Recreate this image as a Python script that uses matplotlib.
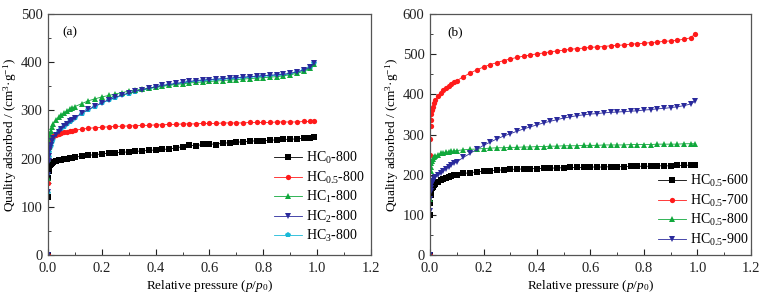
import numpy as np
import matplotlib
matplotlib.use('Agg')
import matplotlib.pyplot as plt

plt.rcParams['font.family'] = 'Liberation Serif'
plt.rcParams['mathtext.fontset'] = 'custom'
plt.rcParams['mathtext.rm'] = 'Liberation Serif'
plt.rcParams['mathtext.it'] = 'Liberation Serif:italic'

# relative pressure points (shared by all isotherms)
P = [0, 0.0005, 0.001, 0.002, 0.003, 0.005, 0.007, 0.01, 0.015, 0.02, 0.03, 0.04, 0.05,
     0.06, 0.07, 0.08, 0.09,
     0.1, 0.125, 0.15, 0.175, 0.2, 0.225, 0.25, 0.275, 0.3, 0.325, 0.35, 0.375, 0.4,
     0.425, 0.45, 0.475, 0.5, 0.525, 0.55, 0.575, 0.6, 0.625, 0.65, 0.675, 0.7, 0.725,
     0.75, 0.775, 0.8, 0.825, 0.85, 0.875, 0.9, 0.925, 0.95, 0.975, 0.99]

# (a) HCx-800
hc0_800 = [0, 120, 160, 175, 180, 184, 187, 189, 191, 193, 195, 197, 198, 199, 200, 201, 202,
           203, 205, 207, 208, 210, 211, 212, 213, 214, 215, 216, 217, 218, 219, 220, 222,
           225, 228, 226, 230, 231, 229, 233, 232, 234, 235, 236, 237, 237, 238, 239, 240,
           240, 241, 242, 243, 244]
hc05_800 = [0, 150, 200, 225, 232, 237, 240, 242, 245, 247, 250, 252, 254, 255, 256, 257, 258,
            259, 261, 263, 264, 265, 266, 267, 267, 268, 268, 269, 269, 270, 270, 271, 271,
            272, 272, 272, 273, 273, 273, 274, 274, 274, 274, 275, 275, 275, 275, 276, 276,
            276, 276, 277, 277, 277]
hc1_800 = [0, 160, 200, 225, 235, 245, 252, 258, 266, 272, 280, 286, 291, 295, 299, 302, 305,
           308, 314, 320, 324, 328, 331, 334, 337, 340, 342, 344, 346, 348, 350, 352, 354,
           355, 357, 358, 359, 360, 361, 362, 363, 364, 365, 366, 367, 368, 369, 370, 372,
           374, 377, 381, 388, 397]
hc2_800 = [0, 130, 165, 195, 205, 215, 222, 228, 236, 242, 250, 256, 262, 267, 272, 277, 281,
           285, 294, 302, 309, 316, 322, 327, 332, 336, 340, 343, 346, 349, 352, 354, 356,
           358, 360, 362, 363, 364, 365, 366, 367, 368, 369, 370, 371, 372, 373, 374, 375,
           377, 380, 384, 390, 399]
hc3_800 = [0, 129, 164, 194, 204, 214, 221, 227, 235, 241, 249, 255, 261, 266, 271, 276, 280,
           284, 293, 301, 308, 315, 321, 326, 331, 335, 339, 342, 345, 348, 351, 353, 355,
           357, 359, 361, 362, 363, 364, 365, 366, 367, 368, 369, 370, 371, 372, 373, 374,
           376, 379, 383, 389, 398]

# (b) HC0.5-T
hc05_600 = [0, 100, 130, 150, 157, 163, 167, 170, 174, 177, 182, 186, 189, 192, 194, 196, 198,
            200, 203, 205, 207, 209, 210, 211, 212, 213, 214, 214, 215, 215, 216, 216, 217,
            217, 218, 218, 218, 219, 219, 219, 220, 220, 220, 221, 221, 221, 221, 222, 222,
            222, 223, 223, 224, 225]
hc05_700 = [0, 250, 290, 320, 335, 350, 360, 368, 378, 386, 396, 404, 410, 416, 421, 426, 430,
            434, 444, 453, 461, 468, 474, 479, 484, 488, 492, 495, 498, 501, 503, 506, 508,
            510, 512, 514, 515, 517, 518, 519, 521, 522, 523, 525, 526, 527, 529, 530, 532,
            533, 535, 537, 541, 550]
hc05_800b = [0, 140, 185, 210, 220, 228, 234, 238, 243, 246, 250, 253, 255, 256, 257, 258, 259,
             260, 262, 263, 264, 265, 266, 267, 267, 268, 268, 269, 269, 270, 270, 271, 271,
             272, 272, 272, 273, 273, 273, 274, 274, 274, 274, 275, 275, 275, 275, 276, 276,
             276, 276, 277, 277, 277]
hc05_900 = [0, 110, 140, 160, 168, 175, 180, 185, 190, 194, 200, 205, 210, 215, 220, 224, 228,
            232, 243, 253, 263, 273, 281, 289, 296, 302, 308, 314, 319, 324, 329, 333, 337,
            341, 344, 347, 349, 351, 352, 354, 355, 356, 357, 358, 359, 361, 362, 364, 365,
            367, 369, 372, 376, 383]

labels_a = ['HC$_0$-800', 'HC$_{0.5}$-800', 'HC$_1$-800', 'HC$_2$-800', 'HC$_3$-800']
labels_b = ['HC$_{0.5}$-600', 'HC$_{0.5}$-700', 'HC$_{0.5}$-800', 'HC$_{0.5}$-900']

black, red, green, blue, cyan = '#000000', '#ff1a1a', '#11a83c', '#2a2a9c', '#19b9d8'

fig = plt.figure(figsize=(7.73, 2.95), dpi=100)
ax1 = fig.add_axes([0.0621, 0.1356, 0.4178, 0.8169])
ax2 = fig.add_axes([0.5563, 0.1356, 0.4152, 0.8169])


def draw(ax, series, ymax, ystep):
    for y, lab, c, m in series:
        ax.plot(P, y, color=c, marker=m, markersize=3.8, lw=0.6, label=lab,
                markeredgewidth=0)
    ax.set_xlim(0, 1.2)
    ax.set_ylim(0, ymax)
    ax.set_xticks(np.arange(0, 1.21, 0.2))
    ax.set_xticks(np.arange(0.1, 1.2, 0.2), minor=True)
    ax.set_yticks(np.arange(0, ymax + 1, ystep))
    ax.set_yticks(np.arange(ystep / 2, ymax, ystep), minor=True)
    ax.set_xticklabels([f'{v:.1f}' for v in np.arange(0, 1.21, 0.2)])
    ax.tick_params(which='both', direction='in', labelsize=10.5, colors='#222222')
    ax.tick_params(axis='x', pad=5)
    ax.tick_params(axis='y', pad=4)
    ax.tick_params(which='major', length=4)
    ax.tick_params(which='minor', length=2)
    for s in ax.spines.values():
        s.set_color('#555555')
        s.set_linewidth(0.9)
    ax.set_xlabel('Relative pressure ($p$/$p_0$)', fontsize=9.5, labelpad=2)
    ax.set_ylabel('Quality adsorbed / (cm$^3$·g$^{-1}$)', fontsize=9.5, labelpad=1)


draw(ax1, [(hc3_800, labels_a[4], cyan, 'p'),
           (hc0_800, labels_a[0], black, 's'),
           (hc05_800, labels_a[1], red, 'o'),
           (hc1_800, labels_a[2], green, '^'),
           (hc2_800, labels_a[3], blue, 'v')], 500, 100)
draw(ax2, [(hc05_600, labels_b[0], black, 's'),
           (hc05_700, labels_b[1], red, 'o'),
           (hc05_800b, labels_b[2], green, '^'),
           (hc05_900, labels_b[3], blue, 'v')], 600, 100)

h, l = ax1.get_legend_handles_labels()
order = [1, 2, 3, 4, 0]
ax1.legend([h[i] for i in order], [l[i] for i in order], loc='center left',
           bbox_to_anchor=(0.70, 0.24), frameon=False, fontsize=10,
           handlelength=2.0, handletextpad=0.3, labelspacing=0.25, borderaxespad=0,
           borderpad=0)
ax2.legend(loc='center left', bbox_to_anchor=(0.71, 0.185), frameon=False, fontsize=10,
           handlelength=2.0, handletextpad=0.3, labelspacing=0.25, borderaxespad=0,
           borderpad=0)

ax1.text(0.043, 0.925, '(a)', transform=ax1.transAxes, fontsize=9.5, va='center')
ax2.text(0.053, 0.925, '(b)', transform=ax2.transAxes, fontsize=9.5, va='center')

fig.savefig('out.png', dpi=100)
